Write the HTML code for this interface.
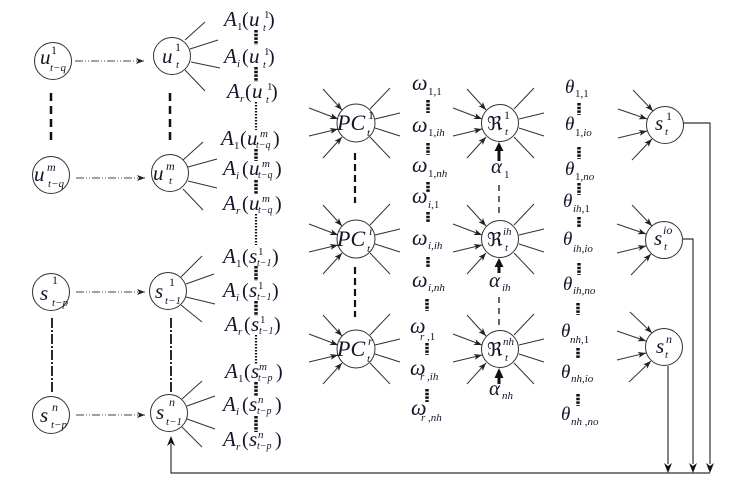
<!DOCTYPE html>
<html><head><meta charset="utf-8"><style>
html,body{margin:0;padding:0;background:#fff;}
svg{display:block;}
text{font-family:"Liberation Serif","DejaVu Serif",serif;fill:#14142a;}
.i{font-style:italic;}
</style></head><body>
<svg width="753" height="487" viewBox="0 0 753 487" xmlns="http://www.w3.org/2000/svg" font-family="Liberation Serif, DejaVu Serif, serif">
<defs>
<marker id="ah" markerWidth="8" markerHeight="6" refX="8" refY="3" orient="auto" markerUnits="userSpaceOnUse">
<path d="M0,0 L8,3 L0,6 L2,3 z" fill="#222"/>
</marker>
</defs>

<!-- circles -->
<g fill="none" stroke="#333" stroke-width="1">
<circle cx="53" cy="61" r="18.5"/>
<circle cx="51" cy="175" r="18.5"/>
<circle cx="172" cy="56" r="18.5"/>
<circle cx="170" cy="173" r="18.5"/>
<circle cx="51" cy="292" r="18.5"/>
<circle cx="51" cy="415" r="18.5"/>
<circle cx="168" cy="291" r="18.5"/>
<circle cx="169" cy="413" r="18.5"/>
<circle cx="356" cy="123" r="19"/>
<circle cx="356" cy="239" r="19"/>
<circle cx="356" cy="349" r="19"/>
<circle cx="500" cy="123" r="18.5"/>
<circle cx="500" cy="239" r="18.5"/>
<circle cx="500" cy="349" r="18.5"/>
<circle cx="665" cy="125" r="18.5"/>
<circle cx="664" cy="240" r="18.5"/>
<circle cx="664" cy="347" r="18.5"/>
</g>

<!-- horizontal dash-dot-dot arrows -->
<g stroke="#444" stroke-width="1" stroke-dasharray="8 2 1 2 1 2" marker-end="url(#ah)">
<line x1="75" y1="61" x2="144" y2="61"/>
<line x1="76" y1="178" x2="145" y2="178"/>
<line x1="76" y1="292" x2="145" y2="292"/>
<line x1="76" y1="415" x2="145" y2="415"/>
</g>

<!-- vertical dashed lines -->
<g stroke="#111" stroke-width="2.5" stroke-dasharray="8 5">
<line x1="51" y1="93" x2="51" y2="143"/>
<line x1="170" y1="93" x2="170" y2="143"/>
</g>
<g stroke="#111" stroke-width="1.8" stroke-dasharray="10 2 2 2">
<line x1="52" y1="318" x2="52" y2="393"/>
<line x1="171" y1="318" x2="171" y2="393"/>
</g>
<g stroke="#111" stroke-width="2.2" stroke-dasharray="7 4">
<line x1="355" y1="153" x2="355" y2="203"/>
<line x1="355" y1="267" x2="355" y2="317"/>
</g>
<g stroke="#333" stroke-width="1.5" stroke-dasharray="6 5">
<line x1="499" y1="185" x2="499" y2="214"/>
<line x1="499" y1="297" x2="499" y2="326"/>
</g>

<!-- fans from u_t, s_t-1 -->
<g stroke="#333" stroke-width="1">
<line x1="185" y1="40" x2="205" y2="22"/><line x1="190" y1="49" x2="218" y2="40"/><line x1="191" y1="62" x2="220" y2="68"/><line x1="185" y1="70" x2="205" y2="91"/>
<line x1="183" y1="160" x2="203" y2="142"/><line x1="188" y1="167" x2="217" y2="159"/><line x1="188" y1="181" x2="217" y2="188"/><line x1="183" y1="189" x2="203" y2="210"/>
<line x1="181" y1="277" x2="202" y2="256"/><line x1="186" y1="284" x2="214" y2="274"/><line x1="186" y1="297" x2="215" y2="304"/><line x1="181" y1="305" x2="202" y2="322"/>
<line x1="182" y1="399" x2="202" y2="381"/><line x1="187" y1="406" x2="215" y2="396"/><line x1="187" y1="419" x2="215" y2="429"/><line x1="182" y1="427" x2="202" y2="447"/>
</g>

<!-- star nodes PC and R -->
<g stroke="#333" stroke-width="1">
<line x1="390" y1="88" x2="370" y2="109"/><line x1="400" y1="113" x2="375" y2="119"/><line x1="400" y1="136" x2="375" y2="128"/><line x1="390" y1="158" x2="370" y2="137"/>
<line x1="390" y1="204" x2="370" y2="225"/><line x1="400" y1="229" x2="375" y2="235"/><line x1="400" y1="252" x2="375" y2="244"/><line x1="390" y1="274" x2="370" y2="253"/>
<line x1="390" y1="314" x2="370" y2="335"/><line x1="400" y1="339" x2="375" y2="345"/><line x1="400" y1="362" x2="375" y2="354"/><line x1="390" y1="384" x2="370" y2="363"/>
<line x1="534" y1="88" x2="514" y2="109"/><line x1="544" y1="113" x2="519" y2="119"/><line x1="544" y1="136" x2="519" y2="128"/><line x1="534" y1="158" x2="514" y2="137"/>
<line x1="534" y1="204" x2="514" y2="225"/><line x1="544" y1="229" x2="519" y2="235"/><line x1="544" y1="252" x2="519" y2="244"/><line x1="534" y1="274" x2="514" y2="253"/>
<line x1="534" y1="314" x2="514" y2="335"/><line x1="544" y1="339" x2="519" y2="345"/><line x1="544" y1="362" x2="519" y2="354"/><line x1="534" y1="384" x2="514" y2="363"/>
</g>
<g stroke="#333" stroke-width="1" marker-end="url(#ah)">
<line x1="323" y1="89" x2="342" y2="110"/><line x1="309" y1="108" x2="338" y2="119"/><line x1="309" y1="136" x2="338" y2="129"/><line x1="323" y1="158" x2="342" y2="137"/>
<line x1="323" y1="205" x2="342" y2="226"/><line x1="309" y1="224" x2="338" y2="235"/><line x1="309" y1="252" x2="338" y2="245"/><line x1="323" y1="274" x2="342" y2="253"/>
<line x1="323" y1="315" x2="342" y2="336"/><line x1="309" y1="334" x2="338" y2="345"/><line x1="309" y1="362" x2="338" y2="355"/><line x1="323" y1="384" x2="342" y2="363"/>
<line x1="467" y1="89" x2="486" y2="110"/><line x1="453" y1="108" x2="482" y2="119"/><line x1="453" y1="136" x2="482" y2="129"/><line x1="467" y1="158" x2="486" y2="137"/>
<line x1="467" y1="205" x2="486" y2="226"/><line x1="453" y1="224" x2="482" y2="235"/><line x1="453" y1="252" x2="482" y2="245"/><line x1="467" y1="274" x2="486" y2="253"/>
<line x1="467" y1="315" x2="486" y2="336"/><line x1="453" y1="334" x2="482" y2="345"/><line x1="453" y1="362" x2="482" y2="355"/><line x1="467" y1="384" x2="486" y2="363"/>
<line x1="633" y1="90" x2="653" y2="111"/><line x1="618" y1="109" x2="647" y2="119"/><line x1="618" y1="138" x2="647" y2="131"/><line x1="632" y1="160" x2="652" y2="139"/>
<line x1="632" y1="205" x2="652" y2="226"/><line x1="617" y1="224" x2="646" y2="234"/><line x1="617" y1="253" x2="646" y2="246"/><line x1="631" y1="275" x2="651" y2="254"/>
<line x1="630" y1="312" x2="652" y2="333"/><line x1="617" y1="331" x2="646" y2="341"/><line x1="617" y1="360" x2="646" y2="353"/><line x1="629" y1="382" x2="651" y2="361"/>
</g>

<!-- alpha thick arrows -->
<g fill="#111" stroke="none">
<rect x="497.5" y="149" width="3" height="12"/><path d="M494.5,151 L503.5,151 L499,142 z"/>
<rect x="497.5" y="265" width="3" height="8"/><path d="M494.5,267 L503.5,267 L499,258 z"/>
<rect x="497.5" y="376" width="3" height="8"/><path d="M494.5,378 L503.5,378 L499,368 z"/>
</g>

<!-- output connectors -->
<g fill="none" stroke="#333" stroke-width="1.2">
<polyline points="683,123 710,123 710,464"/>
<polyline points="683,239 693,239 693,464"/>
<line x1="668" y1="366" x2="668" y2="464"/>
<polyline points="710,473 171,473 171,444"/>
</g>
<g fill="#111">
<path d="M664,463 L668,473 L672,463 L668,466 z"/>
<path d="M689,463 L693,473 L697,463 L693,466 z"/>
<path d="M706,463 L710,473 L714,463 L710,466 z"/>
<path d="M167,446 L171,436 L175,446 L171,443 z"/>
</g>

<!-- dotted vertical lines -->
<g stroke="#111" fill="none">
<g stroke-width="3.5" stroke-dasharray="2.5 1.2">
<line x1="256" y1="30" x2="256" y2="45"/><line x1="256" y1="67" x2="256" y2="82"/>
<line x1="256" y1="149" x2="256" y2="161"/><line x1="256" y1="180" x2="256" y2="194"/>
<line x1="256" y1="266" x2="256" y2="281"/><line x1="256" y1="301" x2="256" y2="316"/>
<line x1="256" y1="382" x2="256" y2="396"/><line x1="256" y1="416" x2="256" y2="432"/>
<line x1="428" y1="100" x2="428" y2="113"/><line x1="428" y1="143" x2="428" y2="155"/>
<line x1="428" y1="182" x2="428" y2="192"/><line x1="428" y1="212" x2="428" y2="223"/>
<line x1="428" y1="257" x2="428" y2="268"/><line x1="427" y1="299" x2="427" y2="311"/>
<line x1="427" y1="343" x2="427" y2="355"/><line x1="427" y1="389" x2="427" y2="402"/>
<line x1="579" y1="103" x2="579" y2="115"/><line x1="579" y1="147" x2="579" y2="159"/>
<line x1="579" y1="183" x2="579" y2="195"/><line x1="579" y1="217" x2="579" y2="228"/>
<line x1="579" y1="263" x2="579" y2="275"/><line x1="578" y1="303" x2="578" y2="315"/>
<line x1="578" y1="348" x2="578" y2="359"/><line x1="578" y1="394" x2="578" y2="406"/>
</g>
<g stroke-width="2.2" stroke-dasharray="1.5 1.5">
<line x1="256" y1="102" x2="256" y2="130"/>
<line x1="256" y1="214" x2="256" y2="245"/>
<line x1="256" y1="335" x2="256" y2="364"/>
</g>
</g>

<!-- node labels -->
<g>
<text x="40" y="64" font-size="21" class="i">u</text><text x="51" y="54" font-size="12">1</text><text x="50" y="71" font-size="11" class="i">t−q</text>
<text x="34" y="181" font-size="21" class="i">u</text><text x="47" y="171" font-size="12" class="i">m</text><text x="48" y="187" font-size="11" class="i">t−q</text>
<text x="162" y="63" font-size="21" class="i">u</text><text x="175" y="51" font-size="12">1</text><text x="176" y="68" font-size="11" class="i">t</text>
<text x="153" y="180" font-size="21" class="i">u</text><text x="166" y="170" font-size="12" class="i">m</text><text x="169" y="184" font-size="11" class="i">t</text>
<text x="40" y="300" font-size="21" class="i">s</text><text x="52" y="284" font-size="12">1</text><text x="52" y="306" font-size="11" class="i">t−p</text>
<text x="40" y="422" font-size="21" class="i">s</text><text x="52" y="411" font-size="12" class="i">n</text><text x="51" y="428" font-size="11" class="i">t−p</text>
<text x="155" y="298" font-size="21" class="i">s</text><text x="169" y="286" font-size="12">1</text><text x="165" y="304" font-size="11" class="i">t−1</text>
<text x="156" y="419" font-size="21" class="i">s</text><text x="169" y="406" font-size="12" class="i">n</text><text x="166" y="425" font-size="11" class="i">t−1</text>

<text x="337" y="130" font-size="22" class="i">PC</text><text x="368" y="119" font-size="12">1</text><text x="367" y="136" font-size="11" class="i">t</text>
<text x="337" y="246" font-size="22" class="i">PC</text><text x="369" y="235" font-size="12" class="i">i</text><text x="367" y="252" font-size="11" class="i">t</text>
<text x="337" y="356" font-size="22" class="i">PC</text><text x="368" y="345" font-size="12" class="i">r</text><text x="367" y="362" font-size="11" class="i">t</text>

<text x="487" y="130" font-size="19">ℜ</text><text x="504" y="119" font-size="12">1</text><text x="505" y="135" font-size="11" class="i">t</text>
<text x="487" y="246" font-size="19">ℜ</text><text x="503" y="235" font-size="11" class="i">ih</text><text x="505" y="251" font-size="11" class="i">t</text>
<text x="487" y="356" font-size="19">ℜ</text><text x="503" y="345" font-size="11" class="i">nh</text><text x="505" y="361" font-size="11" class="i">t</text>

<text x="655" y="130" font-size="21" class="i">s</text><text x="666" y="120" font-size="12">1</text><text x="665" y="135" font-size="11" class="i">t</text>
<text x="654" y="245" font-size="21" class="i">s</text><text x="663" y="234" font-size="12" class="i">io</text><text x="664" y="250" font-size="11" class="i">t</text>
<text x="656" y="353" font-size="21" class="i">s</text><text x="666" y="343" font-size="12" class="i">n</text><text x="665" y="358" font-size="11" class="i">t</text>
</g>

<!-- A labels (u group) -->
<g>
<text x="224" y="26" font-size="21" class="i">A</text><text x="237" y="30" font-size="11">1</text><text x="242" y="26" font-size="20">(</text><text x="249" y="26" font-size="21" class="i">u</text><text x="264" y="18" font-size="11">1</text><text x="263" y="31" font-size="10" class="i">t</text><text x="268" y="26" font-size="20">)</text>
<text x="224" y="63" font-size="21" class="i">A</text><text x="237" y="67" font-size="11" class="i">i</text><text x="242" y="63" font-size="20">(</text><text x="249" y="63" font-size="21" class="i">u</text><text x="264" y="55" font-size="11">1</text><text x="263" y="68" font-size="10" class="i">t</text><text x="268" y="63" font-size="20">)</text>
<text x="227" y="98" font-size="21" class="i">A</text><text x="240" y="102" font-size="11" class="i">r</text><text x="245" y="98" font-size="20">(</text><text x="252" y="98" font-size="21" class="i">u</text><text x="267" y="90" font-size="11">1</text><text x="266" y="103" font-size="10" class="i">t</text><text x="271" y="98" font-size="20">)</text>

<text x="221" y="145" font-size="21" class="i">A</text><text x="234" y="149" font-size="11">1</text><text x="240" y="145" font-size="20">(</text><text x="247" y="145" font-size="21" class="i">u</text><text x="260" y="137" font-size="11" class="i">m</text><text x="256" y="148" font-size="10" class="i">t−q</text><text x="273" y="145" font-size="20">)</text>
<text x="223" y="175" font-size="21" class="i">A</text><text x="236" y="179" font-size="11" class="i">i</text><text x="242" y="175" font-size="20">(</text><text x="249" y="175" font-size="21" class="i">u</text><text x="262" y="167" font-size="11" class="i">m</text><text x="258" y="178" font-size="10" class="i">t−q</text><text x="275" y="175" font-size="20">)</text>
<text x="223" y="210" font-size="21" class="i">A</text><text x="236" y="214" font-size="11" class="i">r</text><text x="242" y="210" font-size="20">(</text><text x="249" y="210" font-size="21" class="i">u</text><text x="262" y="202" font-size="11" class="i">m</text><text x="258" y="213" font-size="10" class="i">t−q</text><text x="275" y="210" font-size="20">)</text>
</g>
<!-- A labels (s group) -->
<g>
<text x="223" y="263" font-size="21" class="i">A</text><text x="236" y="267" font-size="11">1</text><text x="242" y="263" font-size="20">(</text><text x="249" y="263" font-size="21" class="i">s</text><text x="258" y="255" font-size="11">1</text><text x="257" y="266" font-size="10" class="i">t−1</text><text x="272" y="263" font-size="20">)</text>
<text x="223" y="297" font-size="21" class="i">A</text><text x="236" y="301" font-size="11" class="i">i</text><text x="242" y="297" font-size="20">(</text><text x="249" y="297" font-size="21" class="i">s</text><text x="258" y="289" font-size="11">1</text><text x="257" y="300" font-size="10" class="i">t−1</text><text x="272" y="297" font-size="20">)</text>
<text x="225" y="331" font-size="21" class="i">A</text><text x="238" y="335" font-size="11" class="i">r</text><text x="244" y="331" font-size="20">(</text><text x="251" y="331" font-size="21" class="i">s</text><text x="260" y="323" font-size="11">1</text><text x="259" y="334" font-size="10" class="i">t−1</text><text x="274" y="331" font-size="20">)</text>

<text x="225" y="378" font-size="21" class="i">A</text><text x="238" y="382" font-size="11">1</text><text x="244" y="378" font-size="20">(</text><text x="251" y="378" font-size="21" class="i">s</text><text x="259" y="370" font-size="11" class="i">m</text><text x="258" y="381" font-size="10" class="i">t−p</text><text x="276" y="378" font-size="20">)</text>
<text x="223" y="411" font-size="21" class="i">A</text><text x="236" y="415" font-size="11" class="i">i</text><text x="242" y="411" font-size="20">(</text><text x="249" y="411" font-size="21" class="i">s</text><text x="258" y="403" font-size="11" class="i">n</text><text x="257" y="414" font-size="10" class="i">t−p</text><text x="275" y="411" font-size="20">)</text>
<text x="223" y="446" font-size="21" class="i">A</text><text x="236" y="450" font-size="11" class="i">r</text><text x="242" y="446" font-size="20">(</text><text x="249" y="446" font-size="21" class="i">s</text><text x="258" y="438" font-size="11" class="i">n</text><text x="257" y="449" font-size="10" class="i">t−p</text><text x="275" y="446" font-size="20">)</text>
</g>

<!-- omega labels -->
<g>
<text x="412" y="90" font-size="22" class="i">ω</text><text x="428" y="95" font-size="11">1,1</text>
<text x="412" y="132" font-size="22" class="i">ω</text><text x="428" y="136" font-size="11">1,<tspan class="i">ih</tspan></text>
<text x="412" y="172" font-size="22" class="i">ω</text><text x="428" y="177" font-size="11">1,<tspan class="i">nh</tspan></text>
<text x="412" y="203" font-size="22" class="i">ω</text><text x="428" y="208" font-size="11"><tspan class="i">i</tspan>,1</text>
<text x="412" y="245" font-size="22" class="i">ω</text><text x="428" y="249" font-size="11"><tspan class="i">i</tspan>,<tspan class="i">ih</tspan></text>
<text x="412" y="287" font-size="22" class="i">ω</text><text x="428" y="291" font-size="11"><tspan class="i">i</tspan>,<tspan class="i">nh</tspan></text>
<text x="410" y="333" font-size="22" class="i">ω</text><text x="420" y="340" font-size="11"><tspan class="i">r</tspan> ,1</text>
<text x="410" y="375" font-size="22" class="i">ω</text><text x="420" y="380" font-size="11"><tspan class="i">r</tspan> ,<tspan class="i">ih</tspan></text>
<text x="411" y="415" font-size="22" class="i">ω</text><text x="421" y="421" font-size="11"><tspan class="i">r</tspan> ,<tspan class="i">nh</tspan></text>
</g>

<!-- alpha labels -->
<g>
<text x="491" y="173" font-size="21" class="i">α</text><text x="504" y="178" font-size="11">1</text>
<text x="489" y="287" font-size="21" class="i">α</text><text x="502" y="291" font-size="11" class="i">ih</text>
<text x="489" y="395" font-size="21" class="i">α</text><text x="502" y="399" font-size="11" class="i">nh</text>
</g>

<!-- theta labels -->
<g>
<text x="565" y="93" font-size="19" class="i">θ</text><text x="575" y="97" font-size="11">1,1</text>
<text x="565" y="130" font-size="19" class="i">θ</text><text x="575" y="136" font-size="11">1,<tspan class="i">io</tspan></text>
<text x="565" y="175" font-size="19" class="i">θ</text><text x="575" y="180" font-size="11">1,<tspan class="i">no</tspan></text>
<text x="563" y="207" font-size="19" class="i">θ</text><text x="573" y="212" font-size="11"><tspan class="i">ih</tspan>,1</text>
<text x="563" y="245" font-size="19" class="i">θ</text><text x="573" y="252" font-size="11"><tspan class="i">ih</tspan>,<tspan class="i">io</tspan></text>
<text x="563" y="290" font-size="19" class="i">θ</text><text x="573" y="294" font-size="11"><tspan class="i">ih</tspan>,<tspan class="i">no</tspan></text>
<text x="561" y="337" font-size="19" class="i">θ</text><text x="570" y="343" font-size="11"><tspan class="i">nh</tspan>,1</text>
<text x="561" y="378" font-size="19" class="i">θ</text><text x="571" y="382" font-size="11"><tspan class="i">nh</tspan>,<tspan class="i">io</tspan></text>
<text x="561" y="420" font-size="19" class="i">θ</text><text x="571" y="425" font-size="11"><tspan class="i">nh</tspan> ,<tspan class="i">no</tspan></text>
</g>
</svg>
</body></html>
